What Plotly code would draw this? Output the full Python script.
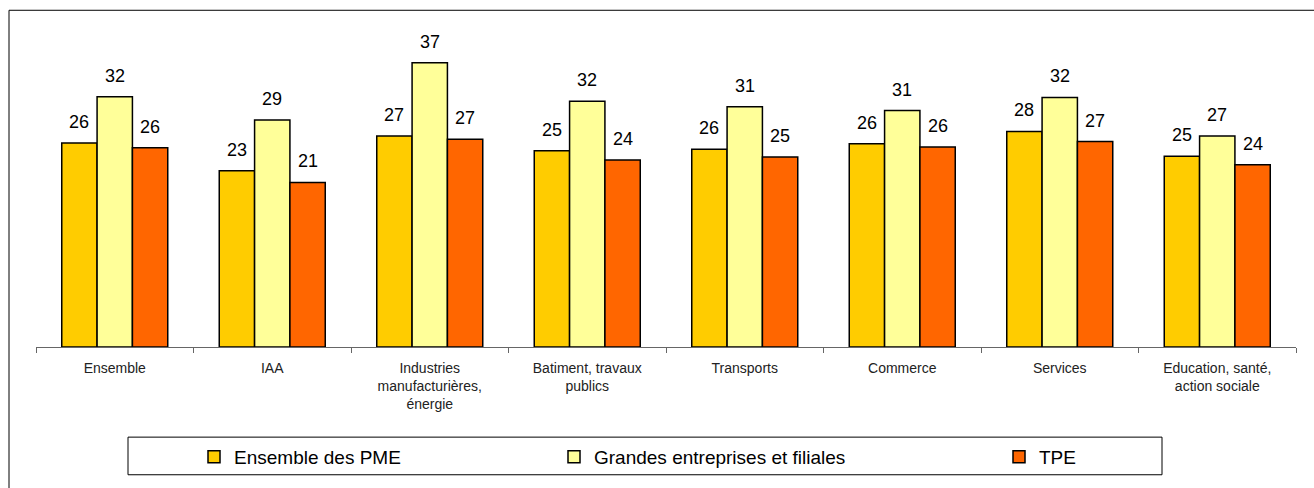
import plotly.graph_objects as go

categories = ["Ensemble", "IAA", "Industries<br>manufacturières,<br>énergie",
              "Batiment, travaux<br>publics", "Transports", "Commerce", "Services",
              "Education, santé,<br>action sociale"]
series_names = ["Ensemble des PME", "Grandes entreprises et filiales", "TPE"]
pme = [26.4, 22.8, 27.3, 25.4, 25.6, 26.3, 27.9, 24.7]
grandes = [32.4, 29.4, 36.8, 31.8, 31.1, 30.6, 32.3, 27.3]
tpe = [25.8, 21.3, 26.9, 24.2, 24.6, 25.9, 26.6, 23.6]

colors = ["#FFCC00", "#FFFF99", "#FF6600"]
FONT = "Arial, 'Liberation Sans', sans-serif"
BARGAP = 0.327

fig = go.Figure()
all_series = [pme, grandes, tpe]
legend_ids = ["legend", "legend2", "legend3"]
for name, vals, col, lg in zip(series_names, all_series, colors, legend_ids):
    fig.add_trace(go.Bar(
        x=categories, y=vals, name=name, legend=lg,
        marker=dict(color=col, line=dict(color="#000000", width=1.5)),
        hoverinfo="skip",
    ))

# data labels (rounded), positioned over each bar in category units
offset = (1 - BARGAP) / 3
annotations = []
for j, vals in enumerate(all_series):
    for i, v in enumerate(vals):
        annotations.append(dict(
            x=i + (j - 1) * offset, y=v, xref="x", yref="y",
            text=f"{v:.0f}", showarrow=False, yanchor="bottom",
            yshift=9, font=dict(size=18, color="#000000", family=FONT),
        ))

def px_x(p):
    return (p - 36) / 1260.0

def px_y(p):
    return (350 - p) / 312.0

shapes = [
    # outer chart border
    dict(type="rect", xref="paper", yref="paper",
         x0=px_x(9), x1=px_x(1330), y0=px_y(500), y1=px_y(10),
         line=dict(color="#000000", width=1), fillcolor="rgba(0,0,0,0)", layer="below"),
    # legend box
    dict(type="rect", xref="paper", yref="paper",
         x0=px_x(128), x1=px_x(1162), y0=px_y(479), y1=px_y(441),
         line=dict(color="#000000", width=1), fillcolor="rgba(0,0,0,0)", layer="below"),
]

legend_common = dict(orientation="h", yanchor="middle", xanchor="left",
                     bgcolor="rgba(0,0,0,0)", borderwidth=0,
                     font=dict(size=19, family=FONT, color="#000000"))

fig.update_layout(
    width=1314, height=488,
    margin=dict(l=36, r=18, t=38, b=138),
    paper_bgcolor="#FFFFFF", plot_bgcolor="#FFFFFF",
    barmode="group", bargap=BARGAP, bargroupgap=0,
    font=dict(family=FONT, color="#000000"),
    xaxis=dict(showline=True, linecolor="#666666", linewidth=1,
               ticks="outside", tickson="boundaries", ticklen=5, tickcolor="#666666",
               ticklabelstandoff=8,
               tickfont=dict(size=14, family=FONT, color="#222222"),
               showgrid=False, zeroline=False, fixedrange=True),
    yaxis=dict(range=[0, 40], visible=False, showgrid=False, zeroline=False),
    showlegend=True,
    legend=dict(x=px_x(194), y=px_y(461), **legend_common),
    legend2=dict(x=px_x(554), y=px_y(461), **legend_common),
    legend3=dict(x=px_x(999), y=px_y(461), **legend_common),
    annotations=annotations,
    shapes=shapes,
)

fig.write_html("out.html", config={"displayModeBar": False},
               post_script="document.body.style.margin='0';")
